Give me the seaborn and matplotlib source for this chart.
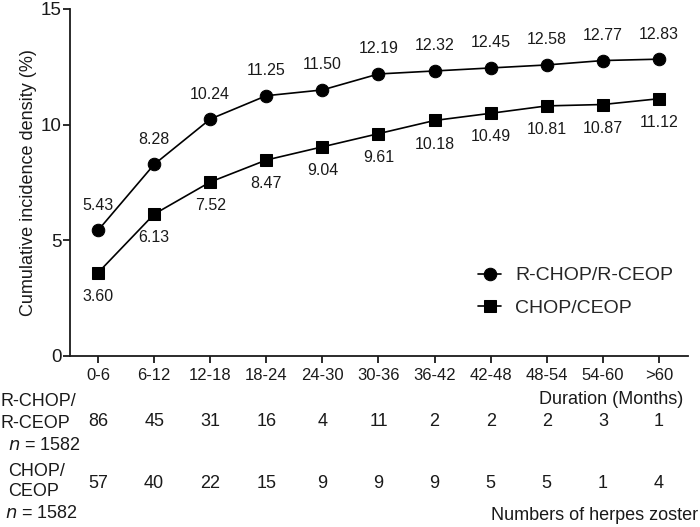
import pandas as pd
import seaborn as sns
import matplotlib.pyplot as plt
from matplotlib.transforms import blended_transform_factory

durations = ["0-6", "6-12", "12-18", "18-24", "24-30", "30-36", "36-42", "42-48", "48-54", "54-60", ">60"]
rchop = [5.43, 8.28, 10.24, 11.25, 11.50, 12.19, 12.32, 12.45, 12.58, 12.77, 12.83]
chop = [3.60, 6.13, 7.52, 8.47, 9.04, 9.61, 10.18, 10.49, 10.81, 10.87, 11.12]
rchop_counts = [86, 45, 31, 16, 4, 11, 2, 2, 2, 3, 1]
chop_counts = [57, 40, 22, 15, 9, 9, 9, 5, 5, 1, 4]
groups = ["R-CHOP/R-CEOP", "CHOP/CEOP"]

sns.set_style("ticks")
plt.rcParams["font.family"] = ["Liberation Sans", "DejaVu Sans"]
ink = "#1a1a1a"

pos = list(range(len(durations)))
df = pd.DataFrame({
    "pos": pos * 2,
    "val": rchop + chop,
    "group": [groups[0]] * len(pos) + [groups[1]] * len(pos),
})

fig = plt.figure(figsize=(7, 5.27), dpi=100)
ax = fig.add_axes([0.1, 0.3245, 0.883, 0.6585])

sns.lineplot(data=df, x="pos", y="val", style="group", markers=["o", "s"], dashes=False,
             color="black", linewidth=1.2, markersize=9, markeredgecolor="black", ax=ax)

for x, v in zip(pos, rchop):
    ax.annotate(f"{v:.2f}", (x, v), xytext=(0, 18), textcoords="offset points",
                ha="center", va="center", fontsize=11.5, color=ink)
for x, v in zip(pos, chop):
    ax.annotate(f"{v:.2f}", (x, v), xytext=(0, -17), textcoords="offset points",
                ha="center", va="center", fontsize=11.5, color=ink)

ax.set_xlim(-0.5, 10.52)
ax.set_ylim(0, 15)
ax.set_yticks([0, 5, 10, 15])
ax.set_xticks(pos)
ax.set_xticklabels(durations)
ax.tick_params(labelsize=12, width=1.3, length=5, colors=ink)
ax.tick_params(axis="y", labelsize=13.5, pad=1)
ax.set_xlabel("")
ax.set_ylabel("Cumulative incidence density (%)", fontsize=13, color=ink, labelpad=3)
for s in ["left", "bottom"]:
    ax.spines[s].set_linewidth(1.3)
    ax.spines[s].set_color(ink)
sns.despine(ax=ax)

leg = ax.legend(loc="center left", bbox_to_anchor=(0.632, 0.185), frameon=False,
                fontsize=14, handlelength=1.2, handletextpad=0.7, labelspacing=0.75)

trans = blended_transform_factory(ax.transData, fig.transFigure)
for x, c1, c2 in zip(pos, rchop_counts, chop_counts):
    ax.text(x, 1 - 422 / 527, str(c1), transform=trans, ha="center", va="center", fontsize=13, color=ink)
    ax.text(x, 1 - 484 / 527, str(c2), transform=trans, ha="center", va="center", fontsize=13, color=ink)

fig.text(683 / 700, 1 - 399 / 527, "Duration (Months)", ha="right", va="center", fontsize=13, color=ink)
fig.text(698 / 700, 1 - 515 / 527, "Numbers of herpes zoster", ha="right", va="center", fontsize=13, color=ink)

fig.text(0.0, 1 - 402 / 527, "R-CHOP/", va="center", fontsize=13, color=ink)
fig.text(0.0, 1 - 424 / 527, "R-CEOP", va="center", fontsize=13, color=ink)
fig.text(8 / 700, 1 - 446 / 527, "$n$ = 1582", va="center", fontsize=13, color=ink)
fig.text(8 / 700, 1 - 471 / 527, "CHOP/", va="center", fontsize=13, color=ink)
fig.text(8 / 700, 1 - 492 / 527, "CEOP", va="center", fontsize=13, color=ink)
fig.text(5 / 700, 1 - 513 / 527, "$n$ = 1582", va="center", fontsize=13, color=ink)

fig.savefig("out.png", dpi=100)
